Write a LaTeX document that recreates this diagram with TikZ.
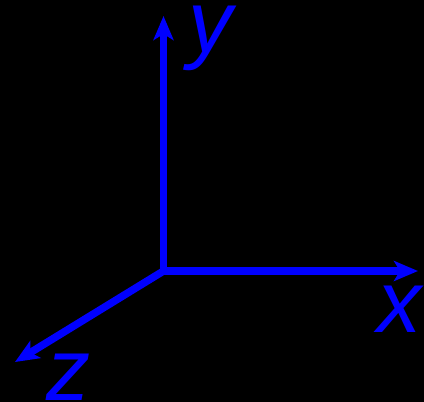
\documentclass[tikz,border=0pt]{standalone}
\usepackage{fontspec}
\setmainfont{Liberation Sans}
\usetikzlibrary{arrows.meta}
\definecolor{axblue}{RGB}{0,0,255}
\begin{document}
\begin{tikzpicture}[x=1pt,y=-1pt,
  axis/.style={draw=axblue,line width=7.5pt,-{Stealth[length=24pt,width=20pt,inset=6pt]}},
  lab/.style={text=axblue,font=\fontsize{88}{88}\selectfont\itshape,inner sep=0pt,anchor=base west}]
\fill[black] (0,0) rectangle (424,402);
\useasboundingbox (0,0) rectangle (424,402);
\coordinate (o) at (163.5,271);
\coordinate (xe) at (418,271);
\coordinate (ye) at (163.5,16);
\coordinate (ze) at (15,362);
\draw[axis,shorten <=-3.75pt] (o) -- (xe);
\draw[axis,shorten <=-3.75pt] (o) -- (ye);
\draw[axis,shorten <=-3pt] (o) -- (ze);
\node[lab] (xl) at (377,332) {x};
\node[lab] (yl) at (188,52) {y};
\node[lab] (zl) at (46,400) {z};
\end{tikzpicture}
\end{document}
